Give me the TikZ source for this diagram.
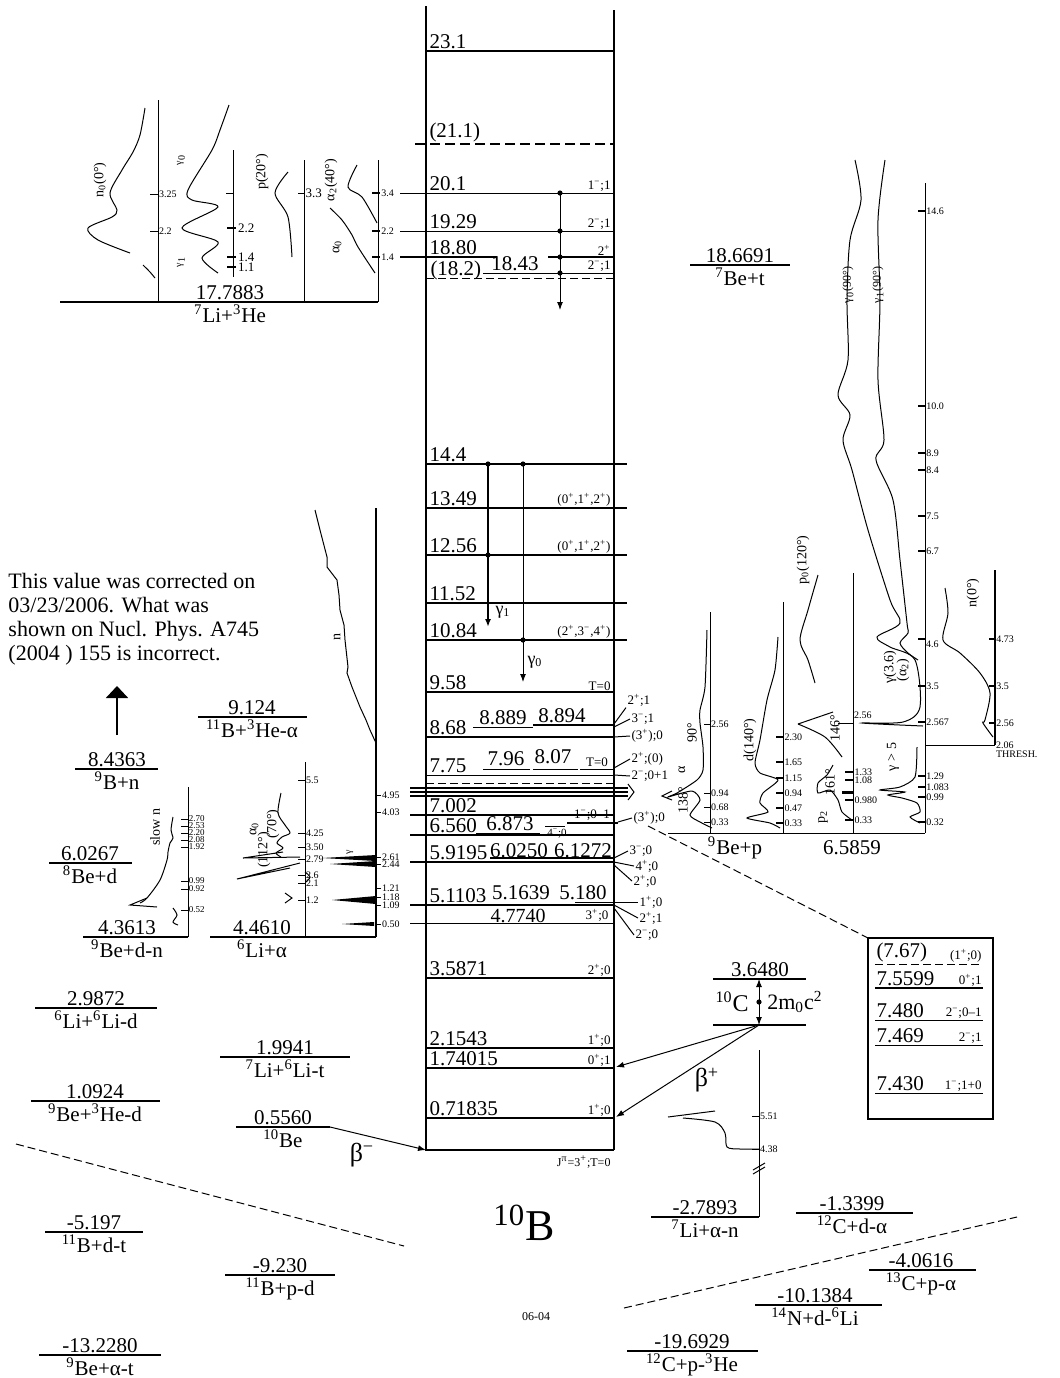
\documentclass[tikz,border=0pt]{standalone}
\usepackage{fontspec}
\setmainfont{Liberation Serif}
\usetikzlibrary{arrows.meta}

\newcommand{\sps}[1]{\textsuperscript{#1}}

\begin{document}
\begin{tikzpicture}[x=0.5pt,y=-0.5pt,>={Latex[length=4pt,width=3pt]},line width=0.5pt,
  lv/.style={font=\fontsize{10.5}{10.5}\selectfont,inner sep=1pt},
  jt/.style={font=\fontsize{6.5}{6.5}\selectfont,inner sep=0.5pt},
  tk/.style={font=\fontsize{5}{5}\selectfont,inner sep=0.3pt},
  cl/.style={font=\fontsize{7}{7}\selectfont,inner sep=0pt,rotate=90}]
\useasboundingbox (0,0) rectangle (1060,1378);

% 10B column
\draw[line width=0.6pt] (426,6) -- (426,1150) -- (614,1150);
\draw[line width=0.9pt] (614,10) -- (614,1150);
\foreach \y/\lab/\w/\xs/\xe [count=\i] in {51/23.1/1/426/614, 193/20.1/0.5/400/614, 231/19.29/0.5/400/614,
  464/14.4/0.6/426/627, 508/13.49/0.6/426/627, 555/12.56/0.6/426/627, 603/11.52/0.6/426/627,
  640/10.84/1.2/426/627, 692/9.58/0.6/426/614, 737/8.68/1.2/426/614, 775/7.75/0.5/426/614,
  815/7.002/0.6/410/614, 835/6.560/1.2/410/614, 862/5.9195/1.2/410/614, 905/5.1103/1.2/410/614,
  978/3.5871/1.2/426/614, 1048/2.1543/0.6/426/614, 1068/1.74015/1.2/426/614, 1118/0.71835/1.2/426/614}{
  \draw[line width=\w pt] (\xs,\y) -- (\xe,\y);
  \node[lv,anchor=south west] (lb\i) at (427,\y) {\lab};
}
\draw[line width=0.9pt,dash pattern=on 5pt off 2.5pt] (415,144) -- (614,144);
\node[lv,anchor=south west] (l211) at (427,144) {(21.1)};
\draw[line width=1.2pt] (400,257) -- (497,257);
\draw[line width=1.2pt] (548,257) -- (614,257);
\node[lv,anchor=south west] (l1880) at (427,257) {18.80};
\draw (483,273) -- (614,273);
\node[lv,anchor=base] (l1843) at (515,270) {18.43};
\draw[dash pattern=on 4pt off 2pt] (426,278) -- (614,278);
\node[lv,anchor=base west] (l182) at (428,275) {(18.2)};
\draw[dash pattern=on 4pt off 2pt] (426,783) -- (614,783);
\foreach \y in {788,792,796}
  \draw[line width=1.1pt] (410,\y) -- (628,\y);
\foreach \y/\lab [count=\i] in {193/1\sps{−};1, 231/2\sps{−};1, 257/2\sps{+}, 273/2\sps{−};1,
  508/{(0\sps{+},1\sps{+},2\sps{+})}, 555/{(0\sps{+},1\sps{+},2\sps{+})}, 640/{(2\sps{+},3\sps{−},4\sps{+})},
  692/T=0, 978/2\sps{+};0, 1048/1\sps{+};0, 1068/0\sps{+};1, 1118/1\sps{+};0}{
  \node[jt,anchor=south east] (jp\i) at (612,\y) {\lab};
}
\node[lv] (l8889) at (503,718) {8.889};
\draw (473,727) -- (533,727);
\node[lv] (l8894) at (562,716) {8.894};
\draw[line width=1.2pt] (533,725) -- (614,725);
\node[lv] (l796) at (506,759) {7.96};
\draw (483,769) -- (530,769);
\node[lv] (l807) at (553,757) {8.07};
\draw (533,769) -- (578,769);
\node[jt] (t0b) at (597,762) {T=0};
\draw (580,769) -- (614,769);
\node[lv,anchor=base,inner sep=0pt] (l6873) at (510,830) {6.873};
\draw (476,833) -- (540,833);
\draw (545,826) -- (565,826);
\node[jt,anchor=base,inner sep=0pt,font=\fontsize{5.5}{5.5}\selectfont] (j4m) at (557,836) {4\sps{−};0};
\node[jt] (j10m) at (592,815) {1\sps{−};0–1};
\draw[line width=1pt] (567,823) -- (618,823);
\node[lv,anchor=base,inner sep=0pt] (l6025) at (519,857) {6.0250};
\node[lv,anchor=base,inner sep=0pt] (l6127) at (583,857) {6.1272};
\draw[line width=1pt] (490,858) -- (614,858);
\node[lv,anchor=base,inner sep=0pt] (l5164) at (521,899) {5.1639};
\node[lv,anchor=base,inner sep=0pt] (l5180) at (583,899) {5.180};
\node[lv,anchor=base,inner sep=0pt,font=\fontsize{10}{10}\selectfont] (l4774) at (518,922) {4.7740};
\draw (410,923) -- (614,923);
\node[jt] (j3p) at (597,915) {3\sps{+};0};
\node[font=\fontsize{6}{6}\selectfont,anchor=north east,inner sep=0.5pt] (jgs) at (612,1154) {J\sps{π}=3\sps{+};T=0};

% labels outside the column
\node[jt,anchor=west] (ra) at (626,700) {2\sps{+};1};
\node[jt,anchor=west] (rb) at (630,719) {3\sps{−};1};
\node[jt,anchor=west] (rc) at (630,736) {(3\sps{+});0};
\node[jt,anchor=west] (rd) at (630,759) {2\sps{+};(0)};
\node[jt,anchor=west] (re) at (630,776) {2\sps{−};0+1};
\node[jt,anchor=west] (rf) at (632,818) {(3\sps{+});0};
\node[jt,anchor=west] (rg) at (628,851) {3\sps{−};0};
\node[jt,anchor=west] (rh) at (634,866) {4\sps{+};0};
\node[jt,anchor=west] (ri) at (632,881) {2\sps{+};0};
\node[jt,anchor=west] (rj) at (638,902) {1\sps{+};0};
\node[jt,anchor=west] (rk) at (638,918) {2\sps{+};1};
\node[jt,anchor=west] (rl) at (634,935) {2\sps{−};0};
\draw (614,724) -- (ra.south west);
\draw (614,727) -- (rb.west);
\draw (614,737) -- (rc.west);
\draw (614,768) -- (rd.west);
\draw (614,775) -- (re.west);
\draw (618,822) -- (rf.west);
\draw (614,858) -- (rg.west);
\draw (614,862) -- (rh.west);
\draw (614,865) -- (ri.west);
\draw (575,902) -- (rj.west);
\draw (614,905) -- (rk.west);
\draw (614,908) -- (rl.west);
\draw (628,784) -- (634,792) -- (628,800);
\draw (672,791) -- (662,796) -- (672,800);
\draw[dash pattern=on 4pt off 2pt] (648,826) -- (868,938);

% gamma transitions
\draw[->] (560,193) -- (560,310);
\foreach \y in {193,231,257,273}
  \fill (560,\y) circle[radius=1.3pt];
\draw[line width=0.8pt,->] (488,464) -- (488,627);
\draw[->] (523,464) -- (523,682);
\foreach \p in {(488,464),(488,555),(523,464),(523,640)}
  \fill \p circle[radius=1.3pt];
\node[font=\fontsize{9}{9}\selectfont] (g1) at (503,612) {γ\textsubscript{1}};
\node[font=\fontsize{9}{9}\selectfont] (g0) at (535,662) {γ\textsubscript{0}};

% thresholds
\foreach \xa/\xb/\xl/\y/\w/\val/\rea [count=\i] in {
  690/790/740/265/0.6/18.6691/\sps{7}Be+t,
  75/158/117/769/0.6/8.4363/\sps{9}B+n,
  198/307/252/717/0.8/9.124/\sps{11}B+\sps{3}He-α,
  49/132/90/863/0.6/6.0267/\sps{8}Be+d,
  83/188/127/937/0.8/4.3613/\sps{9}Be+d-n,
  210/376/262/937/0.8/4.4610/\sps{6}Li+α,
  60/378/230/302/0.8/17.7883/\sps{7}Li+\sps{3}He,
  35/157/96/1008/1.2/2.9872/\sps{6}Li+\sps{6}Li-d,
  220/350/285/1057/0.6/1.9941/\sps{7}Li+\sps{6}Li-t,
  31/160/95/1101/0.6/1.0924/\sps{9}Be+\sps{3}He-d,
  236/330/283/1127/1.2/0.5560/\sps{10}Be,
  45/143/94/1232/1.2/-5.197/\sps{11}B+d-t,
  225/335/280/1275/0.6/-9.230/\sps{11}B+p-d,
  39/161/100/1355/0.6/-13.2280/\sps{9}Be+α-t,
  651/759/705/1217/1/-2.7893/\sps{7}Li+α-n,
  796/913/852/1213/0.6/-1.3399/\sps{12}C+d-α,
  869/976/921/1270/0.6/-4.0616/\sps{13}C+p-α,
  755/882/815/1305/0.6/-10.1384/\sps{14}N+d-\sps{6}Li,
  627/758/692/1351/0.6/-19.6929/\sps{12}C+p-\sps{3}He}{
  \draw[line width=\w pt] (\xa,\y) -- (\xb,\y);
  \coordinate (te\i) at (\xb,\y);
  \node[lv,anchor=south] (tv\i) at (\xl,\y) {\val};
  \node[lv,anchor=north] (tr\i) at (\xl,\y) {\rea};
}
\draw[->] (te11) -- (426,1150);
\node[font=\fontsize{13}{13}\selectfont] (bm) at (362,1155) {β\sps{−}};

% note and arrow
\node[anchor=north west,align=left,inner sep=0pt,font=\fontsize{11}{12}\selectfont] (note) at (8,573)
  {This value was corrected on\\03/23/2006. What was\\shown on Nucl. Phys. A745\\(2004 ) 155 is incorrect.};
\coordinate (upbase) at (117,735);
\coordinate (uptip) at (117,686);
\draw[line width=1pt,-{Triangle[width=11pt,length=6pt]}] (upbase) -- (uptip);

% 7Li+3He spectra
\draw (158,100) -- (158,302);
\draw (233,150) -- (233,277);
\draw (304,160) -- (304,302);
\draw (378,160) -- (378,302);
\foreach \y/\t [count=\i] in {194/3.25,231/2.2}
  \draw (150,\y) -- (158,\y) node[tk,right] (ta\i) {\t};
\draw (226,193) -- (233,193);
\foreach \y/\t [count=\i] in {228/2.2,257/1.4,267/1.1}
  \draw[line width=1pt] (227,\y) -- (236,\y) node[jt,right] (tb\i) {\t};
\draw (298,193) -- (304,193) node[jt,right] (tc1) {3.3};
\foreach \y/\t [count=\i] in {193/3.4,231/2.2,257/1.4}
  \draw[line width=0.8pt] (372,\y) -- (380,\y) node[tk,right] (td\i) {\t};
\draw plot[smooth] coordinates {(145,108) (140,135) (133,152) (122,170) (110,193) (117,210) (112,217) (88,228) (98,240) (130,253)};
\draw plot[smooth] coordinates {(143,265) (150,272) (155,278)};
\draw plot[smooth] coordinates {(229,105) (220,130) (212,150) (188,190) (192,200) (218,207) (182,228) (218,242) (202,258) (218,273)};
\draw plot[smooth] coordinates {(288,172) (275,193) (288,217) (292,257)};
\draw plot[smooth] coordinates {(357,165) (348,187) (362,197) (377,223)};
\draw plot[smooth] coordinates {(330,208) (342,220) (352,235) (358,247) (375,273)};
\node[cl] (n0a) at (100,180) {n\textsubscript{0}(0°)};
\node[cl,font=\fontsize{5}{5}\selectfont] (g0a) at (181,160) {γ\textsubscript{0}};
\node[cl,font=\fontsize{5}{5}\selectfont] (g1a) at (181,262) {γ\textsubscript{1}};
\node[cl] (p20) at (262,172) {p(20°)};
\node[cl] (a240) at (331,180) {α\textsubscript{2}(40°)};
\node[cl] (a0a) at (337,247) {α\textsubscript{0}};

% 6Li+alpha spectra
\draw[line width=1pt] (376,508) -- (376,937);
\draw (305,762) -- (305,937);
\foreach \y/\t [count=\i] in {795/4.95,812/4.03,857/2.61,864/2.44,888/1.21,897/1.18,905/1.09,924/0.50}
  \draw (376,\y) -- (381,\y) node[tk,right] (te\i) {\t};
\foreach \y/\t [count=\i] in {780/5.5,833/4.25,847/3.50,859/2.79,875/2.6,883/2.1,900/1.2}
  \draw (298,\y) -- (305,\y) node[tk,right] (tf\i) {\t};
\draw plot coordinates {(315,510) (320,530) (327,557) (327,567) (337,580) (339,595) (340,610) (344,625) (345,640) (348,667) (347,673) (352,687) (360,707) (366,720) (370,730) (376,743)};
\fill (376,855) -- (322,858) -- (376,861) -- cycle;
\fill (376,861) -- (330,864) -- (376,867) -- cycle;
\fill (376,896) -- (332,900) -- (376,904) -- cycle;
\fill (374,922) -- (342,924) -- (374,926) -- cycle;
\draw plot[smooth] coordinates {(281,793) (278,813) (285,825) (290,833) (282,837) (277,843) (283,848) (276,853) (281,857)};
\draw (300,857) -- (243,858) -- (283,852);
\draw (300,863) -- (237,879) -- (290,868);
\draw (285,893) -- (292,898) -- (285,903);
\draw plot[smooth] coordinates {(305,872) (310,877) (306,882)};
\node[cl] (nlab) at (337,637) {n};
\node[cl] (a0b) at (254,829) {α\textsubscript{0}};
\node[cl] (a112) at (264,850) {(112°)};
\node[cl] (a70) at (273,824) {(70°)};
\node[cl,font=\fontsize{5}{5}\selectfont] (gb) at (350,852) {γ};

% slow n
\draw (188,787) -- (188,937);
\foreach \y/\t [count=\i] in {819/2.70,826/2.53,833/2.20,840/2.08,847/1.92,881/0.99,889/0.92,910/0.52}
  \draw (181,\y) -- (188,\y) node[tk,right,font=\fontsize{4.5}{4.5}\selectfont,inner sep=0.2pt] (tg\i) {\t};
\draw plot[smooth] coordinates {(173,817) (171,830) (173,838) (170,843) (168,852) (167,860) (160,880) (147,898) (140,903)};
\draw (147,898) -- (130,905) -- (157,907);
\draw plot[smooth] coordinates {(173,908) (177,915) (173,922) (178,925)};
\node[cl] (slown) at (155,827) {slow n};

% 9Be+p spectra
\draw (668,833) -- (925,833);
\draw (710,612) -- (710,833);
\draw (783,602) -- (783,833);
\draw (853,573) -- (853,833);
\draw (925,183) -- (925,833);
\draw[line width=0.8pt] (995,570) -- (995,745);
\draw (925,745) -- (995,745);
\foreach \y/\t [count=\i] in {724/2.56,793/0.94,807/0.68,822/0.33}
  \draw (704,\y) -- (710,\y) node[tk,right] (th\i) {\t};
\foreach \y/\t [count=\i] in {737/2.30,762/1.65,778/1.15,793/0.94,808/0.47,823/0.33}
  \draw[line width=1pt] (776,\y) -- (783,\y) node[tk,right] (ti\i) {\t};
\foreach \y/\t [count=\i] in {772/1.33,780/1.08,800/0.980,820/0.33}
  \draw[line width=1pt] (845,\y) -- (853,\y) node[tk,right] (tj\i) {\t};
\draw (838,723) -- (853,723);
\node[tk,anchor=south west] (tj5) at (853,720) {2.56};
\draw[line width=1.5pt] (842,792) -- (853,792);
\foreach \y/\t [count=\i] in {211/14.6,406/10.0,453/8.9,470/8.4,516/7.5,551/6.7,686/3.5,722/2.567,776/1.29,787/1.083,797/0.99,822/0.32}
  \draw[line width=0.8pt] (918,\y) -- (925,\y) node[tk,right] (tk\i) {\t};
\draw[line width=1pt] (918,639) -- (925,639);
\node[tk,anchor=north west] (tk46) at (925,640) {4.6};
\foreach \y/\t [count=\i] in {639/4.73,686/3.5,723/2.56}
  \draw[line width=0.8pt] (989,\y) -- (995,\y) node[tk,right] (tl\i) {\t};
\node[tk,right] (tl4) at (995,745) {2.06};
\node[tk,anchor=north west] (thr) at (995,750) {THRESH.};
\draw plot[smooth,tension=0.4] coordinates {(707,630) (705,687) (700,710) (700,723) (703,747) (703,770) (697,780) (677,793) (668,797) (692,791) (700,800) (690,815) (700,822) (712,828)};
\draw plot[smooth,tension=0.4] coordinates {(778,637) (775,670) (767,700) (760,740) (755,763) (760,773) (778,780) (763,793) (760,803) (768,812) (747,818) (770,823) (780,828)};
\draw plot[smooth] coordinates {(818,575) (808,610) (800,640) (808,660) (815,683)};
\draw (833,712) -- (798,724);
\draw plot[smooth] coordinates {(798,724) (825,737) (842,757)};
\draw plot[smooth,tension=0.4] coordinates {(833,765) (827,775) (818,783) (818,793) (830,790) (838,800) (842,812) (852,820)};
\draw plot[smooth] coordinates {(855,160) (861,200) (850,240) (847,300) (848,360) (838,395) (850,415) (843,440) (852,470) (868,530) (890,600) (900,623) (877,637) (890,647) (915,660) (920,707) (903,722) (862,723) (923,726)};
\draw plot[smooth] coordinates {(885,160) (878,220) (880,300) (878,380) (884,440) (876,460) (893,500) (900,560) (907,623) (908,633) (900,643) (908,653) (918,660)};
\draw plot[smooth,tension=0.4] coordinates {(917,747) (915,777) (900,787) (880,790) (905,792) (888,795) (902,798) (917,803) (920,812) (910,817) (920,823)};
\draw plot[smooth] coordinates {(945,588) (948,613) (943,640) (960,653) (980,673) (990,693) (985,720) (983,723) (993,737)};
\node[cl,font=\fontsize{6}{6}\selectfont] (g090) at (848,285) {γ\textsubscript{0}(90°)};
\node[cl,font=\fontsize{6}{6}\selectfont] (g190) at (878,285) {γ\textsubscript{1}(90°)};
\node[cl] (n0b) at (973,593) {n(0°)};
\node[cl] (g36) at (890,667) {γ(3.6)};
\node[cl] (a2b) at (903,670) {(α\textsubscript{2})};
\node[cl] (g5) at (893,757) {γ > 5};
\node[cl] (a146) at (835,728) {146°};
\node[cl] (a161) at (830,782) {161°};
\node[cl] (p2) at (823,817) {p\textsubscript{2}};
\node[cl] (d140) at (750,740) {d(140°)};
\node[cl] (a90) at (692,733) {90°};
\node[cl] (alab) at (682,770) {α};
\node[cl] (a138) at (683,800) {138°};
\node[cl] (p120) at (803,560) {p\textsubscript{0}(120°)};
\node[lv] (bep) at (735,848) {\sps{9}Be+p};
\node[lv] (bepv) at (852,848) {6.5859};

% 10C and beta+
\draw[line width=1.2pt] (713,979) -- (806,979);
\draw[line width=1.2pt] (713,1025) -- (806,1025);
\node[lv,anchor=south] (c10v) at (760,979) {3.6480};
\node[font=\fontsize{12}{12}\selectfont] (c10) at (732,1002) {\sps{10}C};
\node[font=\fontsize{11}{11}\selectfont] (mc2) at (795,1002) {2m\textsubscript{0}c\sps{2}};
\coordinate (ctop) at (759,979);
\coordinate (cbot) at (759,1025);
\coordinate (b1740) at (616,1067);
\coordinate (b0718) at (616,1117);
\draw[<->] (ctop) -- (cbot);
\fill (759,1002) circle[radius=1.3pt];
\draw[->] (cbot) -- (b1740);
\draw[->] (cbot) -- (b0718);
\node[font=\fontsize{13}{13}\selectfont] (bp) at (707,1080) {β\sps{+}};

% 7Li+alpha-n
\draw (759,1050) -- (759,1217);
\draw (752,1116) -- (759,1116) node[tk,right] (tm1) {5.51};
\draw (752,1149) -- (759,1149) node[tk,right] (tm2) {4.38};
\draw (753,1170) -- (765,1163);
\draw (753,1174) -- (765,1167);
\draw (668,1117) -- (715,1111);
\draw plot[smooth] coordinates {(683,1118) (715,1122) (725,1133) (727,1147) (740,1149) (759,1149)};

% inset box
\draw[line width=1pt] (868,938) rectangle (993,1119);
\node[lv,anchor=south west] (b767) at (874,964) {(7.67)};
\node[jt,anchor=south east] (b767j) at (983,964) {(1\sps{+};0)};
\draw[dash pattern=on 4pt off 2pt] (875,964) -- (982,964);
\node[lv,anchor=south west] (b756) at (874,988) {7.5599};
\node[jt,anchor=south east] (b756j) at (983,988) {0\sps{+};1};
\draw[line width=1pt] (875,988) -- (983,988);
\node[lv,anchor=south west] (b748) at (874,1020) {7.480};
\node[jt,anchor=south east] (b748j) at (983,1020) {2\sps{−};0–1};
\draw (875,1020) -- (983,1020);
\node[lv,anchor=south west] (b7469) at (874,1045) {7.469};
\node[jt,anchor=south east] (b7469j) at (983,1045) {2\sps{−};1};
\draw (875,1045) -- (983,1045);
\node[lv,anchor=south west] (b743) at (874,1093) {7.430};
\node[jt,anchor=south east] (b743j) at (983,1093) {1\sps{−};1+0};
\draw (875,1093) -- (983,1093);

% separators and titles
\draw[dash pattern=on 4pt off 2pt] (16,1144) -- (404,1246);
\draw[dash pattern=on 4pt off 2pt] (624,1308) -- (1017,1217);
\node[font=\fontsize{22}{22}\selectfont] (b10) at (524,1223) {\sps{10}B};
\node[font=\fontsize{6}{6}\selectfont] (date) at (536,1317) {06-04};
\end{tikzpicture}
\end{document}
